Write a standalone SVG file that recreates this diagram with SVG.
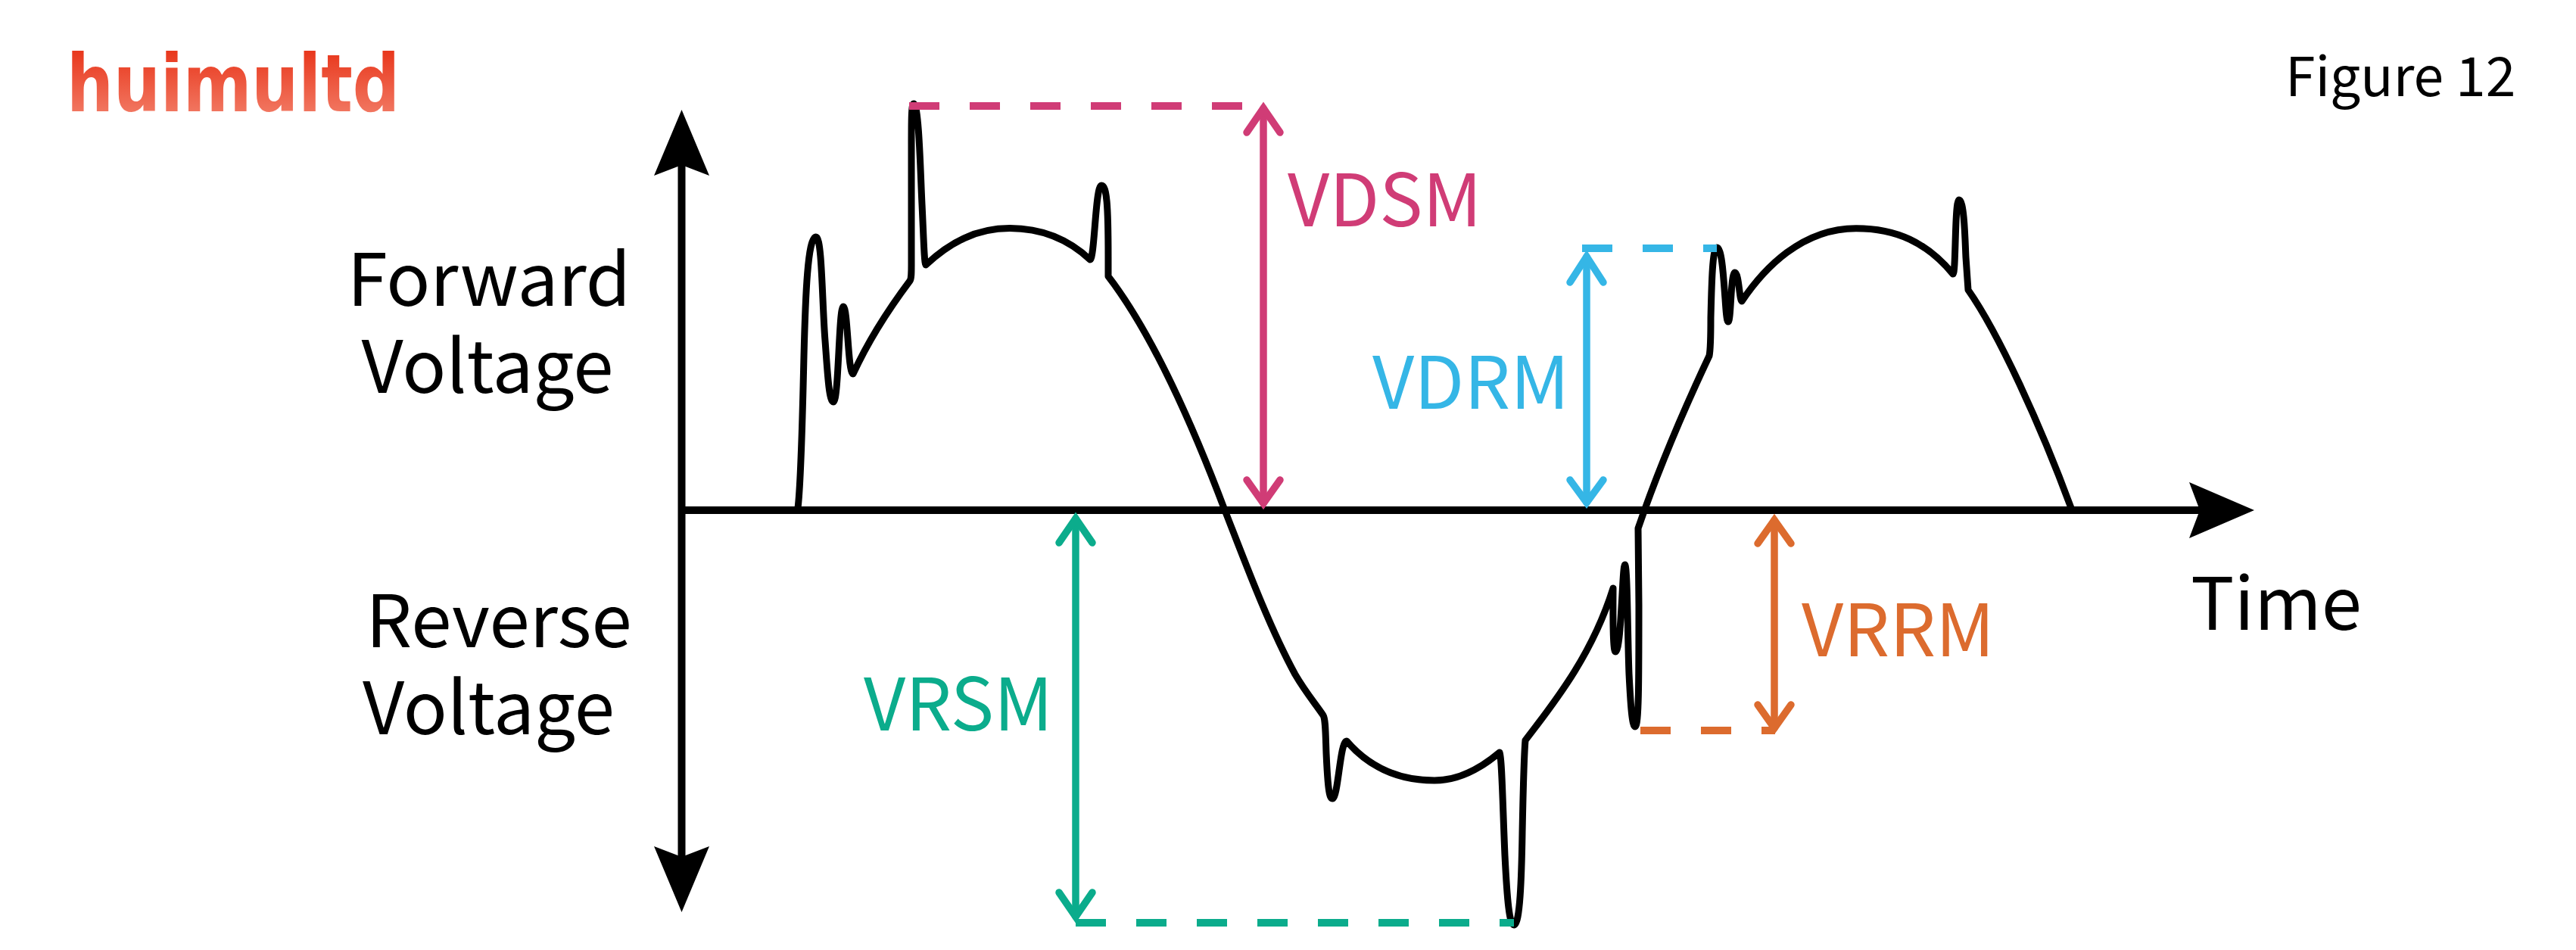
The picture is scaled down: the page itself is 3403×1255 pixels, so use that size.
<svg xmlns="http://www.w3.org/2000/svg" width="3403" height="1255" viewBox="0 0 3403 1255">
<style>
text{font-family:"Noto Sans CJK SC","Noto Sans",sans-serif;font-weight:400;font-size:96px;fill:#000}
.c{text-anchor:middle}
.dim{fill:none;stroke-width:9.5;stroke-linecap:round;stroke-linejoin:miter;stroke-miterlimit:6}
.dash{fill:none;stroke-width:10;stroke-dasharray:40 40}
.pink{stroke:#D03C76}.blue{stroke:#35B6E6}.green{stroke:#0BAC8C}.orange{stroke:#DC6B2E}
.tp{fill:#D03C76}.tb{fill:#35B6E6}.tg{fill:#0BAC8C}.to{fill:#DC6B2E}
.axis{fill:none;stroke:#000;stroke-width:10}
.head{fill:#000}
#wave{fill:none;stroke:#000;stroke-width:9;stroke-linejoin:round;stroke-linecap:round}
</style>
<defs>
<linearGradient id="lg" gradientUnits="userSpaceOnUse" x1="0" y1="64" x2="0" y2="147">
<stop offset="0" stop-color="#E8351A"/><stop offset="1" stop-color="#F1755F"/>
</linearGradient>
</defs>
<rect width="3403" height="1255" fill="#fff"/>
<g id="logo"><text x="88" y="147" style="font-family:'DejaVu Sans',sans-serif;font-weight:700;font-size:105px;fill:url(#lg)" textLength="440" lengthAdjust="spacingAndGlyphs">huimultd</text></g>
<g id="figure-label"><text x="3019" y="127" style="font-size:71.4px">Figure 12</text></g>
<g id="connectors">
<path id="wave" d="M1054,671 C1058,640 1060,560 1062,470 C1064,390 1067,313 1078,313 C1086,313 1086,400 1090,450 C1093,490 1095,531 1101,531 C1108,531 1108,405 1114,405 C1120,405 1120,494 1127,494 C1148,448 1178,403 1202,371 C1204,368 1204,360 1204,350 L1204,190 C1204,160 1204,137 1207,137 C1214,137 1216,230 1218,270 C1220,310 1221,350 1223,350 C1255,320 1290,301.6 1334,301.6 C1375,301.6 1410,315 1440,343 C1446,343 1447,245 1455,245 C1462,245 1464,270 1464,340 L1464,365 C1510,425 1560,520 1618,674 C1640,730 1675,825 1711,891 C1725,915 1738,930 1748,945 C1751,950 1751,965 1752,995 C1754,1040 1756,1055 1760,1055 C1768,1055 1770,979 1779,979 C1810,1015 1850,1031 1895,1031 C1925,1031 1955,1016 1981,994 C1984,1000 1985,1060 1988,1130 C1991,1190 1994,1222 2000,1222 C2008,1222 2010,1160 2011,1100 C2012,1050 2013,1000 2015,978 C2060,920 2105,860 2131,777 C2131,790 2130,861 2134,861 C2142,861 2143,746 2146.5,746 C2150,746 2150,840 2152,890 C2154,930 2156,960 2160,960 C2165,960 2165,900 2165,800 L2164,698 C2190,622 2225,540 2258,470 C2260,460 2260,440 2260,420 C2261,380 2262,327 2268,327 C2275,327 2277,370 2279,395 C2280,410 2281,425 2283,425 C2287,425 2286,360 2292,360 C2297,360 2298,398 2301,398 C2330,355 2380,301.7 2452,301.7 C2505,301.7 2545,320 2580,362 C2584,362 2582,264 2588,264 C2595,264 2596,320 2597,340 L2600,383 C2640,440 2695,560 2736,671"/>
<path class="axis" d="M900.5,218 V1132 M900.5,674 H2906"/>
<path class="head" d="M900.5,145 L937,232 L900.5,218 L864,232 Z"/>
<path class="head" d="M900.5,1205 L937,1118 L900.5,1132 L864,1118 Z"/>
<path class="head" d="M2978,674 L2892,637 L2906,674 L2892,711 Z"/>
<path class="dash pink" d="M1201,140 H1641"/>
<polyline class="dim pink" points="1669,143 1669,665"/>
<polyline class="dim pink" points="1647,175 1669,143 1691,175"/>
<polyline class="dim pink" points="1647,634 1669,665 1691,634"/>
<path class="dash blue" d="M2090,328 H2268"/>
<polyline class="dim blue" points="2096,339 2096,664"/>
<polyline class="dim blue" points="2074,373 2096,339 2118,373"/>
<polyline class="dim blue" points="2074,634 2096,664 2118,634"/>
<path class="dash orange" d="M2167,965 H2345"/>
<polyline class="dim orange" points="2344,687 2344,962"/>
<polyline class="dim orange" points="2322,718 2344,687 2366,718"/>
<polyline class="dim orange" points="2322,931 2344,962 2366,931"/>
<path class="dash green" d="M1421,1219 H2000"/>
<polyline class="dim green" points="1421,685 1421,1211"/>
<polyline class="dim green" points="1399,717 1421,685 1443,717"/>
<polyline class="dim green" points="1399,1179 1421,1211 1443,1179"/>
</g>
<g id="label-forward"><text class="c" x="646" y="404">Forward</text><text class="c" x="644" y="519">Voltage</text></g>
<g id="label-reverse"><text class="c" x="659" y="855">Reverse</text><text class="c" x="645.5" y="970">Voltage</text></g>
<g id="label-time"><text x="2894" y="832">Time</text></g>
<g id="label-vdsm"><text class="tp" x="1701" y="299">VDSM</text></g>
<g id="label-vdrm"><text class="tb" x="1813" y="540">VDRM</text></g>
<g id="label-vrsm"><text class="tg" x="1141" y="965">VRSM</text></g>
<g id="label-vrrm"><text class="to" x="2380" y="867">VRRM</text></g>
</svg>
